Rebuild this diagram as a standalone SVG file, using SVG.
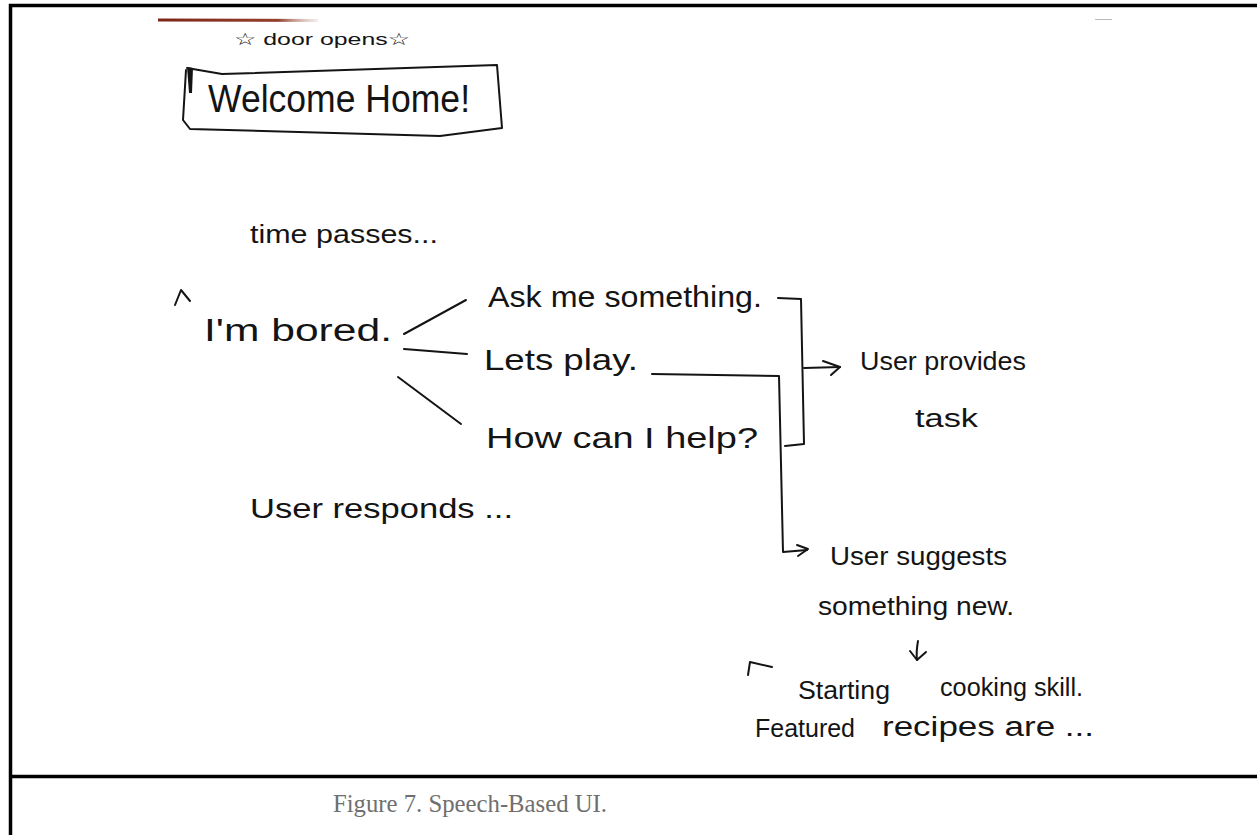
<svg xmlns="http://www.w3.org/2000/svg" width="1257" height="835" viewBox="0 0 1257 835">
  <defs>
    <linearGradient id="tapeFade" x1="0" y1="0" x2="1" y2="0">
      <stop offset="0" stop-color="#7e2616"/>
      <stop offset="0.75" stop-color="#93402c"/>
      <stop offset="1" stop-color="#c9a79c" stop-opacity="0.2"/>
    </linearGradient>
    <style>
      .hand { font-family: "Liberation Sans", "DejaVu Sans", sans-serif; fill: #141414; }
      .ink { fill: none; stroke: #141414; stroke-width: 2; stroke-linecap: round; stroke-linejoin: round; }
      .frame { fill: none; stroke: #000; stroke-width: 3.5; }
      .caption { font-family: "Liberation Serif", "Times New Roman", serif; font-size: 25px; fill: #6f6f6f; }
    </style>
  </defs>

  <rect width="1257" height="835" fill="#fff"/>

  <!-- page frame and caption divider -->
  <g id="frame">
    <path class="frame" d="M1257,5.5 H10.5 V835"/>
    <path class="frame" d="M10.5,776.5 H1257"/>
    <line x1="158" y1="20" x2="318" y2="20.5" stroke="url(#tapeFade)" stroke-width="3"/>
    <line x1="1095" y1="19.5" x2="1112" y2="19.5" stroke="#bbb" stroke-width="1"/>
  </g>

  <!-- connectors -->
  <g id="connectors">
    <!-- I'm bored. -> three replies -->
    <path class="ink" d="M404,334 L466,300"/>
    <path class="ink" d="M404,349 L467,354"/>
    <path class="ink" d="M398,377 L461,424"/>
    <!-- bracket grouping the three replies -->
    <path class="ink" d="M778,298 L801,299 L804,444 L785,446"/>
    <!-- bracket -> User provides task -->
    <path class="ink" d="M804,368 L840,367"/>
    <path class="ink" d="M823,361 L840,367 L831,375"/>
    <!-- Let's play. -> User suggests something new. -->
    <path class="ink" d="M652,374 L779,376 L783,552 L807,550"/>
    <path class="ink" d="M797,545 L808,549 L798,556"/>
    <!-- something new. -> Starting cooking skill -->
    <path class="ink" d="M918,641 Q916,652 917,660"/>
    <path class="ink" d="M910,651 L917,660 L926,652"/>
  </g>

  <g id="door-opens">
    <text class="hand" x="234" y="45" font-size="17" textLength="176" lengthAdjust="spacingAndGlyphs">☆ door opens☆</text>
  </g>

  <g id="welcome-home">
    <path class="ink" d="M187,68 L222,74 L497,65 L502,128 L440,136 L190,129 L183,120 L186,70"/>
    <path d="M187,67 L193,68 L192,93 L189,93 Z" fill="#141414"/>
    <text class="hand" x="208" y="112" font-size="39" textLength="262" lengthAdjust="spacingAndGlyphs">Welcome Home!</text>
  </g>

  <g id="time-passes">
    <text class="hand" x="250" y="243" font-size="25" textLength="188" lengthAdjust="spacingAndGlyphs">time passes...</text>
  </g>

  <g id="im-bored">
    <path class="ink" d="M175,305 L181,290 L190,301"/>
    <text class="hand" x="204" y="341" font-size="31" textLength="188" lengthAdjust="spacingAndGlyphs">I'm bored.</text>
  </g>

  <g id="ask-me-something">
    <text class="hand" x="488" y="307" font-size="30" textLength="274" lengthAdjust="spacingAndGlyphs">Ask me something.</text>
  </g>

  <g id="lets-play">
    <text class="hand" x="484" y="370" font-size="30" textLength="154" lengthAdjust="spacingAndGlyphs">Lets play.</text>
  </g>

  <g id="how-can-i-help">
    <text class="hand" x="486" y="448" font-size="30" textLength="272" lengthAdjust="spacingAndGlyphs">How can I help?</text>
  </g>

  <g id="user-provides-task">
    <text class="hand" x="860" y="370" font-size="26" textLength="166" lengthAdjust="spacingAndGlyphs">User provides</text>
    <text class="hand" x="915" y="427" font-size="26" textLength="63" lengthAdjust="spacingAndGlyphs">task</text>
  </g>

  <g id="user-responds">
    <text class="hand" x="250" y="518" font-size="27" textLength="263" lengthAdjust="spacingAndGlyphs">User responds ...</text>
  </g>

  <g id="user-suggests">
    <text class="hand" x="830" y="565" font-size="26" textLength="177" lengthAdjust="spacingAndGlyphs">User suggests</text>
    <text class="hand" x="818" y="615" font-size="26" textLength="196" lengthAdjust="spacingAndGlyphs">something new.</text>
  </g>

  <g id="starting-cooking">
    <path class="ink" d="M748,675 L750,662 L772,667"/>
    <text class="hand" x="798" y="699" font-size="26" textLength="92" lengthAdjust="spacingAndGlyphs">Starting</text>
    <text class="hand" x="940" y="696" font-size="26" textLength="143" lengthAdjust="spacingAndGlyphs">cooking skill.</text>
    <text class="hand" x="755" y="737" font-size="26" textLength="100" lengthAdjust="spacingAndGlyphs">Featured</text>
    <text class="hand" x="882" y="736" font-size="27" textLength="212" lengthAdjust="spacingAndGlyphs">recipes are ...</text>
  </g>

  <g id="caption">
    <text class="caption" x="470" y="812" text-anchor="middle" textLength="274" lengthAdjust="spacingAndGlyphs">Figure 7. Speech-Based UI.</text>
  </g>
</svg>
